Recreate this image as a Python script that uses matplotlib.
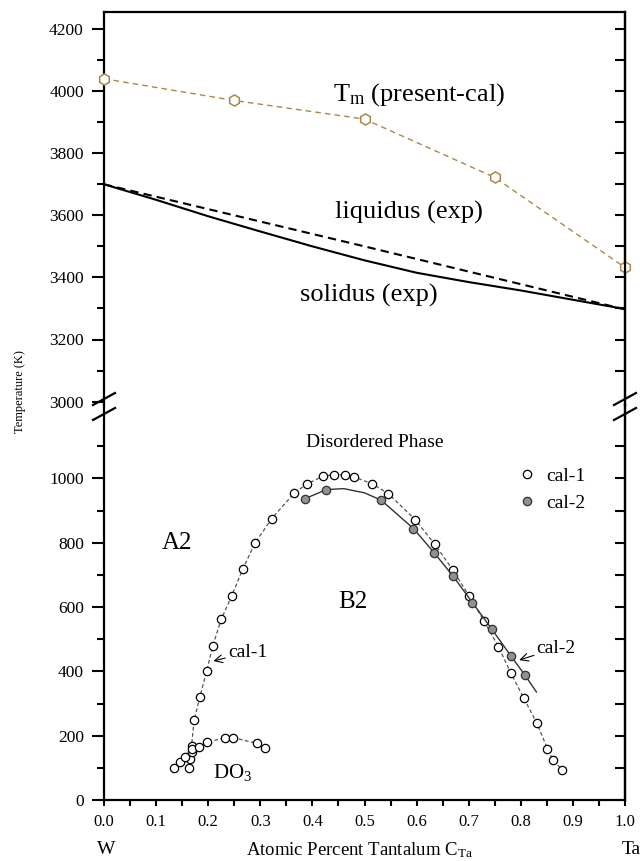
import matplotlib
matplotlib.use("Agg")
import matplotlib.pyplot as plt
from matplotlib.lines import Line2D

plt.rcParams["font.family"] = ["Liberation Serif", "DejaVu Serif"]
plt.rcParams["mathtext.fontset"] = "custom"
plt.rcParams["mathtext.rm"] = "Liberation Serif"
plt.rcParams["mathtext.it"] = "Liberation Serif:italic"

# ---- données ----
# partie haute : fusion
tm_x = [0.0, 0.25, 0.5, 0.75, 1.0]
tm_T = [4040, 3970, 3910, 3722, 3432]
liq_x = [0.0, 0.5, 1.0]
liq_T = [3700, 3500, 3297]
sol_x = [0.0, 0.1, 0.2, 0.3, 0.4, 0.5, 0.6, 0.7, 0.8, 0.9, 1.0]
sol_T = [3700, 3650, 3597, 3548, 3500, 3455, 3415, 3385, 3358, 3328, 3298]

# partie basse : ordre-désordre
cal1_x = [0.164, 0.166, 0.168, 0.168, 0.173, 0.184, 0.197, 0.209, 0.225, 0.245,
          0.266, 0.290, 0.322, 0.365, 0.390, 0.421, 0.441, 0.463, 0.480, 0.515,
          0.546, 0.597, 0.635, 0.670, 0.701, 0.730, 0.757, 0.781, 0.806, 0.831,
          0.851, 0.862, 0.880]
cal1_T = [100, 129, 150, 168, 248, 320, 401, 480, 562, 634,
          717, 799, 875, 954, 983, 1007, 1011, 1011, 1004, 983,
          952, 872, 795, 714, 634, 555, 477, 394, 316, 238,
          160, 124, 93]
do3_x = [0.135, 0.146, 0.155, 0.168, 0.182, 0.197, 0.232, 0.248, 0.293, 0.309]
do3_T = [100, 119, 134, 158, 165, 179, 194, 194, 176, 162]
cal2_x = [0.386, 0.427, 0.532, 0.594, 0.634, 0.670, 0.707, 0.744, 0.781, 0.808]
cal2_T = [937, 965, 932, 844, 768, 696, 614, 532, 448, 388]
# courbe lissée passant par cal-2
fit2_x = [0.386, 0.427, 0.460, 0.500, 0.532, 0.594, 0.634, 0.670, 0.707, 0.744,
          0.781, 0.808, 0.830]
fit2_T = [937, 965, 968, 955, 932, 844, 768, 696, 614, 532, 448, 388, 336]

gold = "#a8884a"
W, H = 643, 861
fig = plt.figure(figsize=(W / 100, H / 100), dpi=100)

def frac(px_left, px_top, px_right, px_bottom):
    return [px_left / W, 1 - px_bottom / H, (px_right - px_left) / W,
            (px_bottom - px_top) / H]

ax_top = fig.add_axes(frac(104, 12, 625, 405))
ax_bot = fig.add_axes(frac(104, 405, 625, 800))
ax_top.set_ylim(2989, 4255)
ax_bot.set_ylim(0, 1228)
for ax in (ax_top, ax_bot):
    ax.set_xlim(0, 1.0)
    for s in ax.spines.values():
        s.set_linewidth(1.6)
ax_top.spines["bottom"].set_visible(False)
ax_bot.spines["top"].set_visible(False)

# ---- haut ----
ax_top.plot(tm_x, tm_T, color=gold, lw=1.0, dashes=(4, 3), marker="h", ms=8,
            mfc="white", mec=gold, mew=1.1, clip_on=False, zorder=3)
ax_top.plot(liq_x, liq_T, color="black", lw=1.5, dashes=(4, 2.5))
ax_top.plot(sol_x, sol_T, color="black", lw=1.5)
ax_top.text(0.4395, 3971, r"T$_{\rm m}$ (present-cal)", fontsize=19, va="baseline")
ax_top.text(0.4434, 3590, "liquidus (exp)", fontsize=19, va="baseline")
ax_top.text(0.376, 3321, "solidus (exp)", fontsize=19, va="baseline")

# ---- bas ----
ax_bot.plot(cal1_x, cal1_T, color="#555555", lw=0.9, dashes=(3, 2), marker="o",
            ms=6, mfc="white", mec="black", mew=0.9)
ax_bot.plot(do3_x, do3_T, color="#555555", lw=0.9, dashes=(3, 2), marker="o",
            ms=6, mfc="white", mec="black", mew=0.9)
ax_bot.plot(fit2_x, fit2_T, color="#333333", lw=1.0)
ax_bot.plot(cal2_x, cal2_T, ls="none", marker="o", ms=6, mfc="#909090",
            mec="#333333", mew=0.9)

ax_bot.text(0.3877, 1096, "Disordered Phase", fontsize=14, va="baseline")
ax_bot.text(0.1113, 779, "A2", fontsize=18, va="baseline")
ax_bot.text(0.449, 596, "B2", fontsize=18, va="baseline")
ax_bot.text(0.21, 67, r"DO$_3$", fontsize=15, va="baseline")
ax_bot.annotate("cal-1", xy=(0.21, 432), xytext=(0.238, 445), fontsize=14,
                va="baseline", arrowprops=dict(arrowstyle="->", lw=0.8,
                                               shrinkA=0, shrinkB=0))
ax_bot.annotate("cal-2", xy=(0.797, 435), xytext=(0.8305, 458), fontsize=14,
                va="baseline", arrowprops=dict(arrowstyle="->", lw=0.8,
                                               shrinkA=0, shrinkB=0))

handles = [Line2D([], [], ls="none", marker="o", ms=6, mfc="white", mec="black",
                  mew=0.9, label="cal-1"),
           Line2D([], [], ls="none", marker="o", ms=6, mfc="#909090",
                  mec="#333333", mew=0.9, label="cal-2")]
ax_bot.legend(handles=handles, loc="upper left", bbox_to_anchor=(0.793, 0.843),
              frameon=False, fontsize=14, handlelength=1.0, handletextpad=0.5,
              borderpad=0, borderaxespad=0, labelspacing=0.5)

# ---- graduations ----
ax_top.set_yticks(range(3000, 4201, 200))
ax_top.set_yticks(range(3100, 4201, 200), minor=True)
ax_bot.set_yticks(range(0, 1001, 200))
ax_bot.set_yticks(range(100, 1101, 200), minor=True)
for ax in (ax_top, ax_bot):
    ax.tick_params(axis="y", which="major", direction="out", length=8.5,
                   width=1.5, pad=6, labelsize=12.5)
    ax.tick_params(axis="y", which="minor", direction="out", length=5, width=1.5)
    axr = ax.twinx()
    axr.set_ylim(ax.get_ylim())
    lo = 3100 if ax is ax_top else 100
    hi = 4201 if ax is ax_top else 1101
    axr.set_yticks(range(lo, hi, 100))
    axr.tick_params(axis="y", direction="in", length=7, width=1.5,
                    labelright=False)
    for k, s in axr.spines.items():
        s.set_visible(k == "right")
        s.set_linewidth(1.6)

ax_top.tick_params(axis="x", which="both", bottom=False, labelbottom=False)
ax_bot.set_xticks([i / 10 for i in range(11)])
ax_bot.set_xticks([i / 20 for i in range(1, 20, 2)], minor=True)
ax_bot.set_xticklabels([f"{i / 10:.1f}" for i in range(11)])
ax_bot.tick_params(axis="x", which="both", direction="out", length=4, width=1.5,
                   pad=6, labelsize=12)

# ---- coupures de l'axe ----
for xc in (104, 625):
    for yc in (399, 414):
        fig.add_artist(Line2D([(xc - 11) / W, (xc + 11) / W],
                              [1 - (yc + 6) / H, 1 - (yc - 6) / H],
                              color="black", lw=1.6))

fig.text(20 / W, 1 - 392 / H, "Temperature (K)", rotation=90, fontsize=9,
         ha="center", va="center")
fig.text(359 / W, 1 - 850 / H, r"Atomic Percent Tantalum C$_{\rm Ta}$",
         fontsize=13.5, ha="center", va="center")
fig.text(106 / W, 1 - 850 / H, "W", fontsize=14, ha="center", va="center")
fig.text(631 / W, 1 - 850 / H, "Ta", fontsize=14, ha="center", va="center")

fig.savefig("out.png", dpi=100)
